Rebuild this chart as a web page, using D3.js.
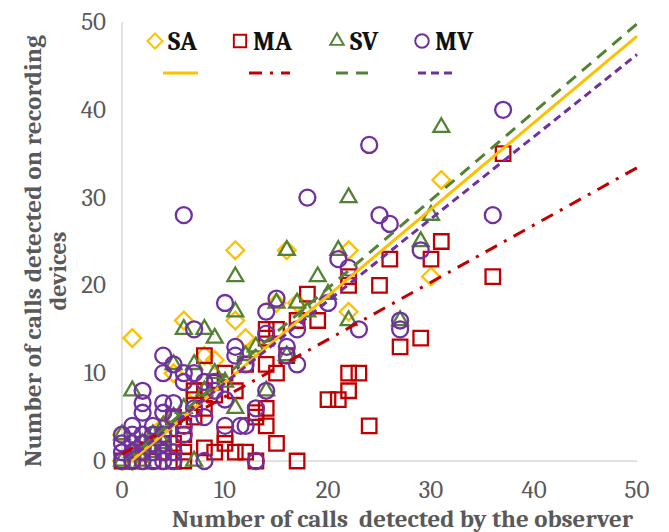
<!DOCTYPE html>
<html>
<head>
<meta charset="utf-8">
<script src="https://cdn.jsdelivr.net/npm/d3@7"></script>
<style>
  body { margin: 0; background: #fff; }
  .tick-label { font-family: Cambria, "DejaVu Serif", serif; font-size: 25px; fill: #595959; }
  .axis-title { font-family: Cambria, "DejaVu Serif", serif; font-size: 24px; font-weight: bold; fill: #595959; }
  .legend-text { font-family: Cambria, "DejaVu Serif", serif; font-size: 26px; font-weight: bold; fill: #111; }
</style>
</head>
<body>
<div id="chart"></div>
<script>
// observer count vs recording-device count, one list per series
let seriesNames = ['SA', 'MA', 'SV', 'MV'];

let saData = [
    [0, 3], [1, 14], [6, 16], [11, 24], [16, 24], [22, 24], [31, 32], [30, 21], [22, 17],
    [11, 16], [12, 14], [8, 12], [15, 18], [17, 18], [9, 11.5], [5, 10], [2, 2], [1, 1],
    [3, 3], [4, 4], [5, 5], [7, 8], [13, 13], [0, 0], [1, 0], [3, 2], [4, 3], [2, 1]
];

let maData = [
    [37, 35], [31, 25], [30, 23], [26, 23], [25, 20], [36, 21], [22, 21], [22, 20], [29, 14],
    [27, 13], [18, 19], [19, 16], [17, 16], [15, 15], [14, 15], [14, 14], [16, 12], [14, 11],
    [12, 11], [15, 10], [22, 10], [23, 10], [22, 8], [20, 7], [21, 7], [24, 4], [15, 2],
    [17, 0], [14, 6], [13, 5], [12, 1], [8, 12], [7, 8], [8, 8], [9, 7.5], [8, 6], [7, 5],
    [6, 4], [6, 3], [6, 1], [8, 1.5], [10, 2], [11, 1], [13, 0], [5, 2], [4, 1], [3, 0],
    [5, 0], [6, 0], [2, 1], [1, 0], [0, 0], [4, 3], [9, 9], [10, 10], [11, 8], [7, 7],
    [5, 5], [10, 3], [9, 1], [13, 5.5], [14, 4]
];

let svData = [
    [31, 38], [22, 30], [30, 28], [29, 25], [21, 24], [16, 24], [11, 21], [19, 21], [11, 17],
    [15, 18], [17, 18], [22, 16], [27, 16], [6, 15], [8, 15], [9, 14], [5, 11], [7, 11],
    [9, 10], [1, 8], [12, 12], [16, 12], [11, 6], [14, 8], [7, 0], [0, 3], [2, 2], [0, 0],
    [1, 1], [3, 3], [4, 2], [2, 0], [3, 1], [5, 5], [4, 4], [6, 6], [8, 8], [10, 9],
    [13, 13], [18, 17], [20, 19]
];

let mvData = [
    [37, 40], [24, 36], [18, 30], [6, 28], [25, 28], [26, 27], [36, 28], [29, 24], [21, 23],
    [22, 22], [20, 18], [23, 15], [27, 16], [27, 15], [10, 18], [14, 17], [15, 18.5], [7, 15],
    [4, 12], [11, 13], [11, 12], [5, 11], [4, 10], [6, 10], [7, 10], [6, 9], [16, 13],
    [17, 11], [14, 8], [13, 6], [10, 4], [11.5, 4], [12, 4], [8, 0], [13, 0], [2, 8],
    [2, 6.6], [2, 5.5], [3, 4], [4, 5.5], [4, 6.6], [5, 6.6], [5, 5], [6, 4], [6, 3],
    [17, 15], [14, 14.5], [16, 12], [0, 0], [1, 0], [2, 0], [3, 0], [4, 0], [5, 0],
    [0, 1], [1, 1], [2, 1], [3, 1], [4, 1], [5, 1], [0, 2], [1, 2], [2, 2], [3, 2],
    [4, 2], [1, 3], [0, 3], [2, 3], [3, 3], [4, 3], [1, 4], [8, 9], [9, 9], [10, 7],
    [9, 8], [7, 6], [8, 5], [12, 11]
];

// trend lines as [start, end] points
let saTrend = [[0.9, 0], [50, 48.4]];
let maTrend = [[0, 0.8], [50, 33.4]];
let svTrend = [[0.4, 0], [50, 49.8]];
let mvTrend = [[0.5, 0], [50, 46.3]];

let xTicks = [0, 10, 20, 30, 40, 50];
let yTicks = [0, 10, 20, 30, 40, 50];

class CallsScatter {
    constructor() {
        this.width = 669;
        this.height = 532;
        this.plot = { left: 122, right: 637, top: 22, bottom: 461 };

        this.series = [
            { name: 'SA', data: saData, trend: saTrend, color: '#FFC000', shape: 'diamond', dash: null },
            { name: 'MA', data: maData, trend: maTrend, color: '#C00000', shape: 'square', dash: '13,8,3,8' },
            { name: 'SV', data: svData, trend: svTrend, color: '#548235', shape: 'triangle', dash: '12,8' },
            { name: 'MV', data: mvData, trend: mvTrend, color: '#7030A0', shape: 'circle', dash: '8,5' }
        ];

        this.drawPlot();
    }

    symbolPath(shape) {
        let types = {
            diamond: [d3.symbolDiamond2, 200],
            square: [d3.symbolSquare, 210],
            triangle: [d3.symbolTriangle2, 180],
            circle: [d3.symbolCircle, 200]
        };
        return d3.symbol().type(types[shape][0]).size(types[shape][1])();
    }

    drawPlot() {
        let that = this;
        this.svg = d3.select('#chart')
            .append('svg')
            .attr('width', this.width)
            .attr('height', this.height);

        this.xScale = d3.scaleLinear()
            .domain([0, 50])
            .range([this.plot.left, this.plot.right]);
        this.yScale = d3.scaleLinear()
            .domain([0, 50])
            .range([this.plot.bottom, this.plot.top]);

        //axis lines
        this.svg.append('line')
            .attr('x1', this.xScale(0)).attr('x2', this.xScale(0))
            .attr('y1', this.yScale(50)).attr('y2', this.yScale(0))
            .attr('stroke', '#d9d9d9').attr('stroke-width', 1.5);
        this.svg.append('line')
            .attr('x1', this.xScale(0)).attr('x2', this.xScale(50))
            .attr('y1', this.yScale(0)).attr('y2', this.yScale(0))
            .attr('stroke', '#d9d9d9').attr('stroke-width', 1.5);

        //tick labels
        this.svg.append('g').selectAll('text')
            .data(xTicks)
            .enter().append('text')
            .classed('tick-label', true)
            .attr('x', d => that.xScale(d))
            .attr('y', 498)
            .attr('text-anchor', 'middle')
            .text(d => d);
        this.svg.append('g').selectAll('text')
            .data(yTicks)
            .enter().append('text')
            .classed('tick-label', true)
            .attr('x', 106)
            .attr('y', d => that.yScale(d) + 8)
            .attr('text-anchor', 'end')
            .text(d => d);

        //axis titles
        this.svg.append('text')
            .classed('axis-title', true)
            .attr('x', 172)
            .attr('y', 527)
            .attr('textLength', 461)
            .attr('lengthAdjust', 'spacingAndGlyphs')
            .attr('xml:space', 'preserve')
            .text('Number of calls  detected by the observer');
        this.svg.append('text')
            .classed('axis-title', true)
            .attr('transform', 'translate(41, 467) rotate(-90)')
            .attr('textLength', 432)
            .attr('lengthAdjust', 'spacingAndGlyphs')
            .text('Number of calls detected on recording');
        this.svg.append('text')
            .classed('axis-title', true)
            .attr('transform', 'translate(66, 271) rotate(-90)')
            .attr('text-anchor', 'middle')
            .text('devices');

        //markers, first series at the bottom
        let markerGroup = this.svg.append('g');
        this.series.forEach(s => {
            markerGroup.append('g').selectAll('path')
                .data(s.data)
                .enter().append('path')
                .attr('d', that.symbolPath(s.shape))
                .attr('transform', d => `translate(${that.xScale(d[0])}, ${that.yScale(d[1])})`)
                .attr('fill', 'none')
                .attr('stroke', s.color)
                .attr('stroke-width', 2.3);
        });

        //trend lines on top
        let lineFn = d3.line()
            .x(d => that.xScale(d[0]))
            .y(d => that.yScale(d[1]));
        this.svg.append('g').selectAll('path')
            .data(this.series)
            .enter().append('path')
            .attr('d', d => lineFn(d.trend))
            .attr('fill', 'none')
            .attr('stroke', d => d.color)
            .attr('stroke-width', 3)
            .attr('stroke-dasharray', d => d.dash);

        //legend
        let legendX = [155, 240, 337, 422];
        let legendLineX = [[163, 198], [249, 290], [336, 372], [418, 455]];
        let legend = this.svg.append('g');
        this.series.forEach((s, i) => {
            legend.append('path')
                .attr('d', that.symbolPath(s.shape))
                .attr('transform', `translate(${legendX[i]}, 41) scale(0.85)`)
                .attr('fill', 'none')
                .attr('stroke', s.color)
                .attr('stroke-width', 2.3);
            legend.append('text')
                .classed('legend-text', true)
                .attr('x', legendX[i] + 13)
                .attr('y', 50)
                .text(s.name);
            legend.append('line')
                .attr('x1', legendLineX[i][0]).attr('x2', legendLineX[i][1])
                .attr('y1', 73).attr('y2', 73)
                .attr('stroke', s.color)
                .attr('stroke-width', 3)
                .attr('stroke-dasharray', s.dash);
        });
    }
}

new CallsScatter();
</script>
</body>
</html>
